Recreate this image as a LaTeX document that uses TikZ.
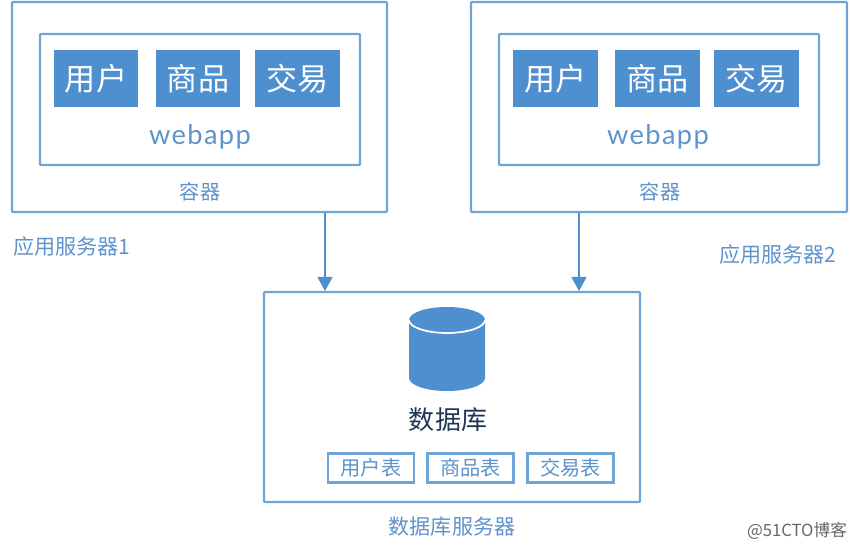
\documentclass[tikz,border=0pt]{standalone}
\usepackage{fontspec}
\setmainfont{Noto Sans CJK SC}
\newfontfamily\latinfont[LetterSpace=5]{Lato}
\usetikzlibrary{positioning,arrows.meta}
\definecolor{boxblue}{HTML}{4E8FD0}
\definecolor{lineblue}{HTML}{6FA5D6}
\definecolor{textblue}{HTML}{5E93CB}
\definecolor{navy}{HTML}{1F3557}
\tikzset{
  outerbox/.style={draw=lineblue,line width=1.3pt,fill=white,rounded corners=0.5pt,inner sep=0pt},
  modulebox/.style={fill=boxblue,text=white,font=\fontsize{17.7}{20}\selectfont,
    minimum width=1.69cm,minimum height=1.14cm,inner sep=0pt},
  tablebox/.style={draw=lineblue,line width=1.2pt,text=textblue,font=\fontsize{11.5}{13}\selectfont,
    minimum width=1.72cm,minimum height=0.58cm,inner sep=0pt},
  caption/.style={text=textblue,font=\fontsize{11.5}{13}\selectfont,inner sep=0pt},
  appname/.style={text=textblue,font=\latinfont\fontsize{15.5}{18}\selectfont,inner sep=0pt},
  flow/.style={draw=boxblue,line width=1.1pt,-{Triangle[length=8pt,width=8.5pt]}}
}
\begin{document}
\begin{tikzpicture}[x=0.02cm,y=-0.02cm]
  \useasboundingbox (0,0) rectangle (850,550);

  % first server
  \node[outerbox,minimum width=7.5cm,minimum height=4.2cm] (srva) at (199.5,107) {};
  \node[outerbox,minimum width=6.4cm,minimum height=2.62cm] (weba) at (200,99.5) {};
  \node[modulebox] (usera) at (96,78.5) {用户};
  \node[modulebox] (gooda) at (198,78.5) {商品};
  \node[modulebox] (tradea) at (297.5,78.5) {交易};
  \node[appname] (appa) at (200,137) {webapp};
  \node[caption] (conta) at (200,192) {容器};
  \node[caption,font=\fontsize{12}{14}\selectfont] (namea) at (72,246) {应用服务器1};

  % second server
  \node[outerbox,minimum width=7.52cm,minimum height=4.2cm] (srvb) at (659,107) {};
  \node[outerbox,minimum width=6.4cm,minimum height=2.62cm] (webb) at (659,99.5) {};
  \node[modulebox] (userb) at (555.5,78.5) {用户};
  \node[modulebox] (goodb) at (657.5,78.5) {商品};
  \node[modulebox] (tradeb) at (756.5,78.5) {交易};
  \node[appname] (appb) at (658,137) {webapp};
  \node[caption] (contb) at (660,192) {容器};
  \node[caption,font=\fontsize{12}{14}\selectfont] (nameb) at (778,254) {应用服务器2};

  % database server
  \node[outerbox,minimum width=7.52cm,minimum height=4.2cm] (srvdb) at (452,397) {};
  \fill[boxblue] (409,320) -- (409,378) arc[start angle=180,end angle=0,x radius=38,y radius=13]
    -- (485,320) arc[start angle=0,end angle=-180,x radius=38,y radius=13] -- cycle;
  \draw[white,line width=1pt] (409,320) arc[start angle=180,end angle=0,x radius=38,y radius=13];
  \node[text=navy,font=\fontsize{14.8}{17}\selectfont,inner sep=0pt] (dbname) at (448,420) {数据库};
  \node[tablebox] (tabuser) at (371,468) {用户表};
  \node[tablebox] (tabgood) at (470.5,468) {商品表};
  \node[tablebox] (tabtrade) at (570.5,468) {交易表};
  \node[caption,font=\fontsize{12}{14}\selectfont] (namedb) at (452,527) {数据库服务器};

  % connectors
  \coordinate (ina) at (325,291);
  \coordinate (inb) at (579,291);
  \draw[flow] (srva.south -| ina) -- (ina);
  \draw[flow] (srvb.south -| inb) -- (inb);

  \node[text=black!60,font=\fontsize{9.5}{11}\selectfont,inner sep=0pt] (mark) at (797,531) {@51CTO博客};
\end{tikzpicture}
\end{document}
